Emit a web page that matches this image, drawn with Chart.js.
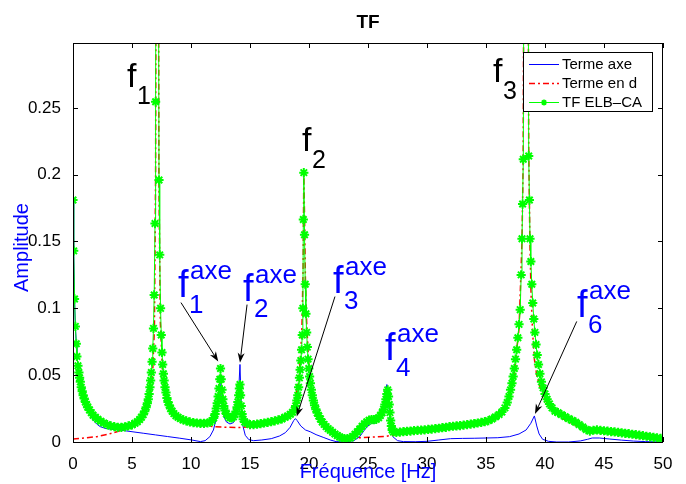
<!DOCTYPE html>
<html>
<head>
<meta charset="utf-8">
<title>TF</title>
<script src="https://cdn.jsdelivr.net/npm/chart.js@4.4.0/dist/chart.umd.min.js"></script>
<style>
html, body { margin: 0; padding: 0; background: #fff; }
canvas { display: block; }
</style>
</head>
<body>
<canvas id="tf" width="686" height="484"></canvas>
<script>
// TF ELB-CA (green, star markers)
const freqTF = [0, 0.06, 0.13, 0.2, 0.28, 0.33, 0.42, 0.5, 0.56, 0.62, 0.7, 0.78, 0.86, 0.95, 1.05, 1.15, 1.25, 1.4, 1.55, 1.7, 1.9, 2.1, 2.35, 2.6, 2.9, 3.2, 3.5, 3.8, 4.1, 4.4, 4.7, 5.0, 5.25, 5.45, 5.65, 5.8, 5.95, 6.08, 6.2, 6.3, 6.38, 6.45, 6.52, 6.58, 6.64, 6.7, 6.76, 6.82, 6.88, 6.95, 7.0, 7.08, 7.15, 7.22, 7.29, 7.35, 7.42, 7.48, 7.54, 7.6, 7.66, 7.72, 7.8, 7.88, 7.96, 8.05, 8.15, 8.27, 8.4, 8.55, 8.72, 8.9, 9.1, 9.35, 9.6, 9.9, 10.2, 10.5, 10.8, 11.1, 11.4, 11.6, 11.78, 11.92, 12.04, 12.14, 12.22, 12.3, 12.37, 12.44, 12.5, 12.56, 12.63, 12.7, 12.78, 12.88, 13.0, 13.15, 13.3, 13.45, 13.6, 13.72, 13.82, 13.9, 13.97, 14.04, 14.1, 14.15, 14.2, 14.26, 14.33, 14.42, 14.55, 14.75, 15.0, 15.3, 15.6, 15.9, 16.2, 16.5, 16.8, 17.1, 17.4, 17.7, 17.95, 18.2, 18.42, 18.6, 18.75, 18.87, 18.97, 19.05, 19.12, 19.19, 19.25, 19.31, 19.37, 19.43, 19.48, 19.52, 19.56, 19.62, 19.68, 19.74, 19.8, 19.86, 19.92, 19.98, 20.05, 20.12, 20.2, 20.28, 20.37, 20.47, 20.58, 20.7, 20.83, 20.97, 21.12, 21.28, 21.45, 21.62, 21.8, 22.0, 22.2, 22.4, 22.6, 22.8, 23.0, 23.25, 23.5, 23.7, 23.9, 24.1, 24.3, 24.5, 24.7, 24.9, 25.1, 25.3, 25.5, 25.7, 25.9, 26.05, 26.2, 26.32, 26.43, 26.52, 26.6, 26.67, 26.74, 26.8, 26.86, 26.92, 26.98, 27.05, 27.15, 27.4, 27.7, 28.0, 28.3, 28.6, 28.9, 29.2, 29.5, 29.8, 30.1, 30.4, 30.7, 31.0, 31.3, 31.6, 31.9, 32.2, 32.5, 32.8, 33.1, 33.4, 33.7, 34.0, 34.3, 34.6, 34.9, 35.2, 35.5, 35.8, 36.1, 36.35, 36.6, 36.8, 36.95, 37.08, 37.2, 37.3, 37.4, 37.5, 37.6, 37.7, 37.8, 37.9, 37.98, 38.05, 38.1, 38.16, 38.4, 38.62, 38.68, 38.73, 38.8, 38.88, 38.96, 39.05, 39.14, 39.24, 39.34, 39.45, 39.57, 39.7, 39.84, 40.0, 40.18, 40.38, 40.6, 40.85, 41.1, 41.4, 41.7, 42.0, 42.3, 42.6, 42.9, 43.2, 43.5, 43.8, 44.1, 44.4, 44.7, 45.0, 45.3, 45.6, 45.9, 46.2, 46.5, 46.8, 47.1, 47.4, 47.7, 48.0, 48.3, 48.6, 48.9, 49.2, 49.5, 49.8, 50.0];
const ampTF = [0.181, 0.143, 0.107, 0.0865, 0.0735, 0.064, 0.057, 0.052, 0.048, 0.045, 0.041, 0.038, 0.035, 0.0325, 0.03, 0.028, 0.026, 0.024, 0.022, 0.02, 0.0185, 0.017, 0.0155, 0.0142, 0.013, 0.012, 0.0115, 0.011, 0.011, 0.0113, 0.012, 0.0128, 0.014, 0.0152, 0.0168, 0.0185, 0.0205, 0.023, 0.026, 0.029, 0.032, 0.036, 0.041, 0.046, 0.052, 0.06, 0.07, 0.085, 0.11, 0.1635, 0.2545, 0.6, 0.95, 0.45, 0.196, 0.14, 0.1, 0.08, 0.067, 0.058, 0.051, 0.046, 0.041, 0.037, 0.033, 0.03, 0.0275, 0.025, 0.023, 0.0212, 0.0197, 0.0185, 0.0175, 0.0165, 0.0158, 0.015, 0.0145, 0.0142, 0.014, 0.014, 0.0142, 0.0148, 0.016, 0.018, 0.021, 0.025, 0.029, 0.034, 0.04, 0.047, 0.055, 0.047, 0.039, 0.032, 0.027, 0.0235, 0.021, 0.0192, 0.0182, 0.018, 0.0188, 0.0205, 0.0228, 0.026, 0.03, 0.035, 0.04, 0.043, 0.035, 0.027, 0.021, 0.017, 0.015, 0.014, 0.013, 0.013, 0.0133, 0.0137, 0.0142, 0.0147, 0.0152, 0.0158, 0.0165, 0.0172, 0.0185, 0.0195, 0.0208, 0.0222, 0.024, 0.027, 0.031, 0.035, 0.041, 0.048, 0.054, 0.061, 0.069, 0.08, 0.1, 0.1665, 0.2015, 0.155, 0.118, 0.096, 0.082, 0.071, 0.062, 0.055, 0.049, 0.044, 0.039, 0.035, 0.031, 0.0275, 0.0245, 0.0218, 0.0195, 0.0172, 0.015, 0.0132, 0.0115, 0.01, 0.0088, 0.0073, 0.006, 0.0048, 0.0038, 0.003, 0.0025, 0.0025, 0.003, 0.0042, 0.0058, 0.0077, 0.0097, 0.0118, 0.0137, 0.0152, 0.0163, 0.0168, 0.0168, 0.017, 0.0182, 0.0198, 0.022, 0.0245, 0.028, 0.032, 0.036, 0.039, 0.034, 0.028, 0.022, 0.016, 0.012, 0.009, 0.0075, 0.0072, 0.0074, 0.0077, 0.008, 0.0082, 0.0085, 0.0087, 0.0089, 0.0091, 0.0094, 0.0097, 0.01, 0.0103, 0.0107, 0.011, 0.0115, 0.0118, 0.012, 0.0123, 0.0126, 0.013, 0.0134, 0.0138, 0.0142, 0.0147, 0.0152, 0.016, 0.0172, 0.0188, 0.0205, 0.0225, 0.0255, 0.0295, 0.034, 0.039, 0.044, 0.049, 0.055, 0.062, 0.069, 0.078, 0.088, 0.099, 0.125, 0.152, 0.178, 0.2115, 0.95, 0.214, 0.181, 0.152, 0.135, 0.118, 0.104, 0.092, 0.082, 0.073, 0.065, 0.058, 0.051, 0.045, 0.0405, 0.036, 0.032, 0.0285, 0.0255, 0.023, 0.022, 0.0205, 0.019, 0.0175, 0.0162, 0.0148, 0.013, 0.0112, 0.0093, 0.0082, 0.0088, 0.009, 0.0087, 0.0084, 0.0081, 0.0078, 0.0075, 0.0072, 0.0069, 0.0065, 0.0062, 0.0058, 0.0055, 0.0051, 0.0047, 0.0043, 0.0039, 0.0035, 0.0031, 0.0027, 0.0025];

// Terme axe (blue)
const freqAxe = [0, 0.06, 0.13, 0.2, 0.28, 0.33, 0.42, 0.5, 0.6, 0.7, 0.8, 0.9, 1.0, 1.2, 1.4, 1.6, 1.8, 2.0, 2.3, 2.7, 3.2, 4.0, 5.0, 6.0, 7.0, 8.0, 9.0, 10.0, 10.8, 11.2, 11.6, 11.9, 12.1, 12.3, 12.45, 12.6, 12.8, 13.0, 13.3, 13.6, 13.8, 13.95, 14.05, 14.15, 14.25, 14.4, 14.6, 14.9, 15.3, 16.0, 16.8, 17.5, 18.0, 18.4, 18.7, 18.85, 19.0, 19.3, 19.7, 20.1, 20.6, 21.2, 21.8, 22.3, 23.0, 23.8, 24.3, 24.7, 25.0, 25.3, 25.6, 25.9, 26.2, 26.45, 26.6, 26.75, 26.9, 27.1, 27.5, 28.0, 29.0, 30.0, 31.0, 32.0, 33.0, 34.0, 35.0, 36.0, 37.0, 37.8, 38.4, 38.8, 39.1, 39.3, 39.5, 39.8, 40.3, 41.0, 42.0, 43.0, 43.6, 44.0, 44.6, 45.5, 46.5, 47.5, 48.5, 50.0];
const ampAxe = [0.181, 0.143, 0.107, 0.0865, 0.0735, 0.064, 0.057, 0.051, 0.045, 0.04, 0.036, 0.033, 0.03, 0.025, 0.021, 0.018, 0.0155, 0.0135, 0.0115, 0.0103, 0.0096, 0.0089, 0.0077, 0.0065, 0.0053, 0.0041, 0.0029, 0.0016, 0.0003, 0.001, 0.004, 0.009, 0.016, 0.028, 0.045, 0.03, 0.019, 0.015, 0.0135, 0.0145, 0.019, 0.028, 0.04, 0.058, 0.03, 0.012, 0.005, 0.0018, 0.001, 0.0015, 0.0025, 0.0045, 0.007, 0.011, 0.016, 0.0175, 0.016, 0.012, 0.009, 0.0077, 0.0055, 0.0035, 0.0015, 0.0003, 0.0, 0.001, 0.004, 0.009, 0.012, 0.014, 0.014, 0.016, 0.021, 0.03, 0.043, 0.03, 0.012, 0.004, 0.001, 0.0003, 0.0002, 0.0005, 0.0015, 0.0025, 0.0027, 0.0028, 0.003, 0.0032, 0.004, 0.006, 0.009, 0.014, 0.0195, 0.012, 0.006, 0.002, 0.0005, 0.0, 0.0, 0.0008, 0.002, 0.003, 0.003, 0.0022, 0.0014, 0.0007, 0.0003, 0.0];

// Terme en d (red, dash-dot)
const freqD = [0, 1, 2, 3, 4, 4.6, 5.2, 5.6, 6.0, 6.3, 6.55, 6.75, 6.9, 7.0, 7.15, 7.28, 7.4, 7.6, 7.9, 8.3, 9.0, 10.0, 11.0, 11.9, 13.0, 14.2, 15.0, 16.0, 17.0, 17.8, 18.3, 18.65, 18.9, 19.1, 19.25, 19.4, 19.5, 19.56, 19.62, 19.7, 19.8, 19.95, 20.1, 20.35, 20.7, 21.1, 21.6, 22.2, 22.8, 23.5, 24.5, 25.5, 26.5, 27.3, 28.0, 30.0, 32.0, 34.0, 35.0, 35.8, 36.4, 36.95, 37.4, 37.8, 38.05, 38.15, 38.4, 38.62, 38.72, 38.82, 38.92, 38.98, 39.1, 39.3, 39.55, 39.8, 40.1, 40.6, 41.2, 41.8, 42.4, 43.0, 43.6, 44.2, 45.0, 46.0, 47.0, 48.0, 49.0, 50.0];
const ampD = [0.0022, 0.003, 0.004, 0.0058, 0.0085, 0.0103, 0.0122, 0.0145, 0.0185, 0.025, 0.035, 0.052, 0.085, 0.2, 0.9, 0.2, 0.09, 0.05, 0.03, 0.022, 0.017, 0.014, 0.0125, 0.0115, 0.011, 0.0108, 0.0115, 0.0125, 0.0145, 0.0165, 0.02, 0.026, 0.034, 0.046, 0.06, 0.085, 0.13, 0.2, 0.17, 0.12, 0.09, 0.063, 0.046, 0.031, 0.021, 0.014, 0.009, 0.005, 0.0035, 0.003, 0.0033, 0.0037, 0.0042, 0.0055, 0.0072, 0.0088, 0.0112, 0.0133, 0.0148, 0.018, 0.0225, 0.032, 0.052, 0.085, 0.15, 0.21, 0.9, 0.22, 0.15, 0.11, 0.088, 0.078, 0.062, 0.05, 0.042, 0.036, 0.03, 0.0235, 0.019, 0.016, 0.0135, 0.0105, 0.0085, 0.0075, 0.007, 0.0065, 0.0058, 0.005, 0.004, 0.0025];

const xTickValues = [0, 5, 10, 15, 20, 25, 30, 35, 40, 45, 50];
const xTickLabels = ['0', '5', '10', '15', '20', '25', '30', '35', '40', '45', '50'];
const yTickValues = [0, 0.05, 0.1, 0.15, 0.2, 0.25];
const yTickLabels = ['0', '0.05', '0.1', '0.15', '0.2', '0.25'];

// labels placed in data units (frequency, amplitude)
const modeLabels = [
  { sub: '1', x: 4.58, y: 0.2655 },
  { sub: '2', x: 19.41, y: 0.2175 },
  { sub: '3', x: 35.59, y: 0.2693 }
];
const axeLabels = [
  { sub: '1', x: 8.90, y: 0.1088 },
  { sub: '2', x: 14.41, y: 0.1058 },
  { sub: '3', x: 22.03, y: 0.1118 },
  { sub: '4', x: 26.44, y: 0.0615 },
  { sub: '6', x: 42.71, y: 0.0938 }
];
const arrows = [
  [9.15, 0.1043, 12.31, 0.0602],
  [14.75, 0.1028, 14.15, 0.0593],
  [22.2, 0.1088, 18.96, 0.019],
  [42.69, 0.0902, 39.15, 0.021]
];

const FONT = '"Liberation Sans", Arial, Helvetica, sans-serif';
const pts = (xs, ys) => xs.map((x, i) => ({ x: x, y: ys[i] }));

function arrowHead(ctx, x1, y1, x2, y2) {
  const a = Math.atan2(y2 - y1, x2 - x1);
  const c = Math.cos(a), s = Math.sin(a);
  const L = 10, W = 3.5, N = 7;
  ctx.beginPath();
  ctx.moveTo(x1, y1);
  ctx.lineTo(x2 - N * c, y2 - N * s);
  ctx.stroke();
  ctx.beginPath();
  ctx.moveTo(x2, y2);
  ctx.lineTo(x2 - L * c - W * s, y2 - L * s + W * c);
  ctx.lineTo(x2 - N * c, y2 - N * s);
  ctx.lineTo(x2 - L * c + W * s, y2 - L * s - W * c);
  ctx.closePath();
  ctx.fill();
}

function star(ctx, x, y, r) {
  const d = r * 0.707;
  ctx.beginPath();
  ctx.moveTo(x - r, y); ctx.lineTo(x + r, y);
  ctx.moveTo(x, y - r); ctx.lineTo(x, y + r);
  ctx.moveTo(x - d, y - d); ctx.lineTo(x + d, y + d);
  ctx.moveTo(x - d, y + d); ctx.lineTo(x + d, y - d);
  ctx.stroke();
}

const decor = {
  id: 'decor',
  afterDraw(chart) {
    const ctx = chart.ctx;
    const a = chart.chartArea;
    const sx = chart.scales.x, sy = chart.scales.y;
    ctx.save();

    // box and inward ticks
    ctx.strokeStyle = '#000';
    ctx.lineWidth = 1;
    ctx.strokeRect(a.left + 0.5, a.top + 0.5, a.right - a.left - 1, a.bottom - a.top);
    ctx.beginPath();
    xTickValues.forEach(v => {
      const px = Math.round(sx.getPixelForValue(v)) + 0.5;
      ctx.moveTo(px, a.bottom); ctx.lineTo(px, a.bottom - 5);
      ctx.moveTo(px, a.top); ctx.lineTo(px, a.top + 5);
    });
    yTickValues.forEach(v => {
      const py = Math.round(sy.getPixelForValue(v)) + 0.5;
      ctx.moveTo(a.left, py); ctx.lineTo(a.left + 5, py);
      ctx.moveTo(a.right, py); ctx.lineTo(a.right - 5, py);
    });
    ctx.stroke();

    // title and axis titles
    ctx.fillStyle = '#000';
    ctx.textAlign = 'center';
    ctx.textBaseline = 'alphabetic';
    ctx.font = 'bold 19px ' + FONT;
    ctx.fillText('TF', (a.left + a.right) / 2, 28);
    ctx.fillStyle = '#0000ff';
    ctx.font = '20px ' + FONT;
    ctx.fillText('Fréquence [Hz]', (a.left + a.right) / 2, 478);
    ctx.save();
    ctx.translate(28, (a.top + a.bottom) / 2 + 5);
    ctx.rotate(-Math.PI / 2);
    ctx.fillText('Amplitude', 0, 0);
    ctx.restore();

    // f_i labels
    ctx.textAlign = 'left';
    ctx.fillStyle = '#000';
    modeLabels.forEach(l => {
      const px = sx.getPixelForValue(l.x), py = sy.getPixelForValue(l.y);
      ctx.font = '34px ' + FONT;
      ctx.fillText('f', px, py);
      ctx.font = '25px ' + FONT;
      ctx.fillText(l.sub, px + 10, py + 17);
    });
    ctx.fillStyle = '#0000ff';
    axeLabels.forEach(l => {
      const px = sx.getPixelForValue(l.x), py = sy.getPixelForValue(l.y);
      ctx.font = '38px ' + FONT;
      ctx.fillText('f', px, py);
      ctx.font = '26px ' + FONT;
      ctx.fillText('axe', px + 12, py - 18);
      ctx.fillText(l.sub, px + 11, py + 16);
    });

    // arrows
    ctx.strokeStyle = '#000';
    ctx.fillStyle = '#000';
    ctx.lineWidth = 1;
    arrows.forEach(r => {
      arrowHead(ctx, sx.getPixelForValue(r[0]), sy.getPixelForValue(r[1]),
        sx.getPixelForValue(r[2]), sy.getPixelForValue(r[3]));
    });

    // legend
    const lx = a.right - 140, ly = a.top + 9, lw = 129, lh = 59;
    ctx.fillStyle = '#fff';
    ctx.fillRect(lx, ly, lw, lh);
    ctx.strokeStyle = '#000';
    ctx.strokeRect(lx + 0.5, ly + 0.5, lw, lh);
    const rows = [12, 31, 50];
    ctx.font = '15px ' + FONT;
    ctx.textBaseline = 'middle';
    chart.data.datasets.slice().reverse().forEach((ds, i) => {
      const y = ly + rows[i] + 0.5;
      ctx.strokeStyle = ds.borderColor;
      ctx.lineWidth = ds.borderWidth;
      ctx.setLineDash(ds.borderDash || []);
      ctx.beginPath();
      ctx.moveTo(lx + 6, y); ctx.lineTo(lx + 36, y);
      ctx.stroke();
      ctx.setLineDash([]);
      if (ds.pointRadius > 0) {
        ctx.lineWidth = 1.5;
        star(ctx, lx + 21, y, 3);
      }
      ctx.fillStyle = '#000';
      ctx.fillText(ds.label, lx + 39, y);
    });
    ctx.restore();
  }
};

new Chart(document.getElementById('tf'), {
  type: 'line',
  data: {
    datasets: [
      {
        label: 'TF ELB\u2013CA', data: pts(freqTF, ampTF), order: 0,
        borderColor: '#00ff00', borderWidth: 1, pointStyle: 'star',
        pointRadius: 4.6, pointBorderColor: '#00ff00', pointBorderWidth: 2,
        pointBackgroundColor: '#00ff00', tension: 0
      },
      {
        label: 'Terme en d', data: pts(freqD, ampD), order: 1,
        borderColor: '#ff0000', borderWidth: 1.5, borderDash: [6, 3, 2, 3],
        pointRadius: 0, tension: 0
      },
      {
        label: 'Terme axe', data: pts(freqAxe, ampAxe), order: 2,
        borderColor: '#0000ff', borderWidth: 1, pointRadius: 0, tension: 0
      }
    ]
  },
  options: {
    responsive: false,
    animation: false,
    events: [],
    layout: { padding: { left: 0, right: 23, top: 43, bottom: 0 } },
    plugins: { legend: { display: false }, title: { display: false }, tooltip: { enabled: false } },
    scales: {
      x: {
        type: 'linear', min: 0, max: 50,
        afterBuildTicks: s => { s.ticks = xTickValues.map(v => ({ value: v })); },
        afterFit: s => { s.height = 42; },
        grid: { display: false },
        border: { display: false },
        ticks: {
          color: '#000', padding: 4, maxRotation: 0, autoSkip: false,
          font: { family: FONT, size: 17 },
          callback: (v, i) => xTickLabels[i]
        }
      },
      y: {
        type: 'linear', min: 0, max: 0.2985,
        afterBuildTicks: s => { s.ticks = yTickValues.map(v => ({ value: v })); },
        afterFit: s => { s.width = 73; },
        grid: { display: false },
        border: { display: false },
        ticks: {
          color: '#000', padding: 4, autoSkip: false,
          font: { family: FONT, size: 17 },
          callback: (v, i) => yTickLabels[i]
        }
      }
    }
  },
  plugins: [decor]
});
</script>
</body>
</html>
